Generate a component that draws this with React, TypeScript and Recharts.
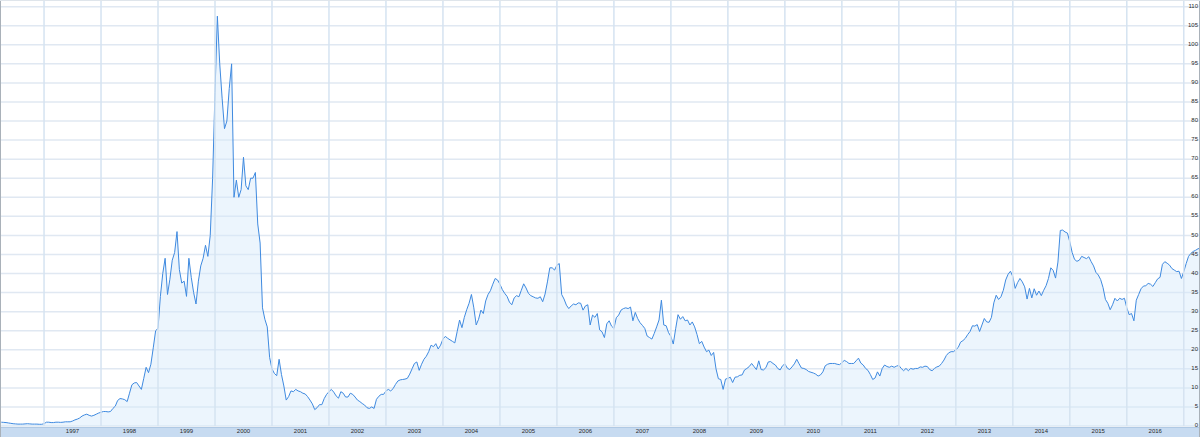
import React from 'react';
import { AreaChart, Area, XAxis, YAxis, CartesianGrid, ReferenceLine } from 'recharts';

// Semi-monthly samples starting mid-April 1996
const FIRST_SAMPLE = 1996.25;
const SAMPLES_PER_YEAR = 24;

const prices: number[] = [
  // 1996 (Apr-Dec)
  1.0, 0.95, 0.9, 0.8, 0.7, 0.6, 0.55, 0.5, 0.5, 0.5, 0.55, 0.6, 0.55, 0.5, 0.5, 0.5, 0.45, 0.45,
  // 1997
  0.6, 1.0, 1.0, 0.9, 0.9, 1.0, 1.0, 0.95, 1.0, 1.1, 1.1, 1.1, 1.3, 1.6, 1.8, 2.1, 2.6, 2.9, 3.1, 2.8, 2.6, 2.8, 3.1, 3.4,
  // 1998
  3.6, 3.8, 3.8, 3.7, 3.8, 4.6, 5.2, 6.7, 7.2, 7.1, 6.9, 6.4, 8.6, 10.8, 11.3, 11.4, 10.5, 9.6, 12.5, 15.4, 14.0, 16.2, 20.5, 25,
  // 1999
  25.6, 34, 40, 44, 34.5, 38.5, 43.5, 45.5, 51, 41, 37.5, 38, 34, 44, 39, 35, 32, 38, 42, 44, 47.4, 44.5, 50, 65,
  // 2000
  87.5, 107.5, 95, 86, 78, 80, 88.5, 95, 60, 64.5, 60, 62, 70.5, 63, 62, 65, 65, 66.5, 53, 48, 31, 28, 26, 18,
  // 2001
  15, 13.8, 13.2, 17.5, 13.5, 10.5, 6.8, 7.7, 9.2, 9.0, 9.6, 9.2, 9.0, 8.6, 8.4, 7.7, 6.8, 5.8, 4.3, 4.8, 5.6, 5.6, 7.2, 8.3,
  // 2002
  9.0, 9.6, 8.9, 7.9, 7.3, 9.0, 8.6, 7.6, 7.6, 8.6, 8.3, 7.6, 6.8, 6.4, 5.9, 5.5, 4.8, 4.6, 5.0, 4.6, 7.0, 7.8, 8.3, 8.3,
  // 2003
  9.2, 9.6, 9.2, 9.8, 10.9, 11.8, 12.1, 12.2, 12.3, 12.5, 13.6, 15, 16.4, 16.8, 14.6, 16.2, 17.5, 18.3, 19.5, 21.2, 20.8, 21.6, 20.2, 21.2,
  // 2004
  22.8, 23.5, 23.0, 22.6, 22.2, 21.8, 24.8, 27.8, 25.8, 28.5, 30.5, 32.2, 34.5, 31, 26.5, 28, 30.4, 29.5, 32.8, 34.5, 35.5, 37.2, 38.7, 38.3,
  // 2005
  37.2, 35.8, 34.8, 34.0, 32.5, 31.8, 33.6, 34.2, 33.9, 35.6, 37.3, 36.2, 34.8, 34.2, 33.9, 33.6, 33.5, 33.9, 32.6, 34.6, 37.8, 41.5, 41.5, 40.9,
  // 2006
  42.2, 42.6, 34.5, 33.3, 31.7, 30.8, 31.5, 32, 31.8, 32.3, 32.2, 30.4, 31.5, 31.8, 26.5, 29.1, 28.5, 29.5, 25.2, 24.7, 23.2, 26.8, 27.6, 26.2,
  // 2007
  25.6, 28.4, 29.1, 30.4, 30.8, 31, 30.8, 31.2, 27.6, 29.8, 28.2, 27.1, 26.4, 25.6, 23.6, 23.2, 22.8, 24.3, 26, 27.8, 33, 26.5, 26.3, 24.5,
  // 2008
  23.5, 21.5, 25.5, 29.2, 28, 28.7, 27.6, 27.8, 26.5, 27.3, 26, 24, 21.6, 22.2, 20.7, 19.5, 19.9, 18.5, 19.3, 15, 12.4, 12.2, 9.6, 12.3,
  // 2009
  12.5, 12.8, 11.4, 12.8, 12.9, 13.3, 13.4, 14.7, 15.1, 15.6, 16.4, 15.6, 14.8, 17.1, 14.8, 14.7, 15.3, 16.8, 16.9, 16.4, 16, 15.1, 14.7, 15.8,
  // 2010
  16.3, 15.2, 14.8, 15.5, 16.3, 17.5, 16.3, 15.2, 15.1, 14.8, 14.3, 14.1, 13.9, 13.6, 13.1, 13.4, 14.2, 15.8, 16.2, 16.4, 16.4, 16.4, 16.2, 16.1,
  // 2011
  16.6, 17.2, 16.9, 16.4, 16.4, 16.4, 17.1, 17.8, 16.5, 16, 15.1, 14.6, 13.5, 12.2, 12.6, 14.2, 13.1, 15.1, 16, 15.6, 15.4, 15.7, 15.4, 15.7,
  // 2012
  15.9, 15.1, 14.5, 15.1, 14.5, 15.1, 14.9, 15.1, 15.1, 15.5, 15.4, 15.7, 15.6, 14.8, 14.5, 15.1, 15.5, 15.7, 16.4, 17.3, 18.5, 19.2, 19.5, 19.5,
  // 2013
  20, 20.6, 22, 22.4, 23, 24, 24.8, 26.3, 26.2, 26.6, 24.8, 26.5, 28.2, 27.3, 27.2, 28.5, 32.3, 34.3, 33.2, 33.9, 35.6, 38.3, 39.8, 40.6,
  // 2014
  39.2, 36.1, 37.6, 38.7, 37.8, 36.5, 33.3, 36.1, 33.6, 36, 34.3, 35.4, 34.2, 35.6, 36.8, 38.7, 41.5, 40.8, 38.8, 43, 51.3, 51.4, 50.9, 50.6,
  // 2015
  48.3, 45.5, 43.7, 43.2, 43.5, 44.5, 44.2, 43.9, 44.4, 43.1, 42, 40.3, 39.6, 38.4, 36.3, 33.2, 32.2, 30.5, 31.8, 33.5, 32.8, 33.5, 33.2, 33.5,
  // 2016
  31, 29.2, 29.5, 27.6, 33, 34.5, 36, 36.7, 36.8, 37.4, 37.2, 36.6, 37.6, 38.6, 39, 42.4, 43.1, 42.7, 42.2, 41.3, 40.9, 40.5, 40.6, 38.7,
  // 2017 (Jan-Apr)
  40.5, 42.6, 44.5, 45.3, 45.8, 46.1, 46.5, 46.6,
];

const yearStarts = [1997, 1998, 1999, 2000, 2001, 2002, 2003, 2004, 2005, 2006, 2007, 2008, 2009, 2010, 2011, 2012, 2013, 2014, 2015, 2016, 2017];
const yearLabels = ['1997', '1998', '1999', '2000', '2001', '2002', '2003', '2004', '2005', '2006', '2007', '2008', '2009', '2010', '2011', '2012', '2013', '2014', '2015', '2016'];
const yTicks = [0, 5, 10, 15, 20, 25, 30, 35, 40, 45, 50, 55, 60, 65, 70, 75, 80, 85, 90, 95, 100, 105, 110];

const X_DOMAIN: [number, number] = [1996.2273, 2017.3021];
const Y_DOMAIN: [number, number] = [0, 111.75];

const data = prices.map((v, i) => ({ t: FIRST_SAMPLE + i / SAMPLES_PER_YEAR, v }));
const labelTicks = yearLabels.map((y) => Number(y) + 0.5);

const FONT = '"Liberation Sans", Arial, sans-serif';

export default function App() {
  return (
    <div style={{ position: 'absolute', left: 0, top: 0, width: 1200, height: 437, background: '#ffffff', overflow: 'hidden' }}>
      <div style={{ position: 'absolute', left: 0, top: 427, width: 1200, height: 10, background: '#c7dbf1', borderTop: '1px solid #b0c9e4', boxSizing: 'border-box' }} />
      <div style={{ position: 'absolute', left: 0, top: 0, width: 1200, height: 437 }}>
        <AreaChart width={1200} height={437} data={data} margin={{ top: 0, right: -1, bottom: 0, left: 0 }}>
          <CartesianGrid horizontal vertical={false} stroke="#e0e8f2" strokeWidth={1.5} />
          <XAxis
            dataKey="t"
            type="number"
            domain={X_DOMAIN}
            allowDataOverflow
            ticks={labelTicks}
            interval={0}
            tickFormatter={(t: number) => String(Math.floor(t))}
            height={11}
            axisLine={false}
            tickLine={false}
            tickSize={0}
            tickMargin={3}
            tick={{ fontSize: 6, fill: '#2a2a2a', fontFamily: FONT }}
          />
          <YAxis
            orientation="right"
            mirror
            width={1}
            domain={Y_DOMAIN}
            allowDataOverflow
            ticks={yTicks}
            interval={0}
            axisLine={false}
            tickLine={false}
            tickSize={0}
            tickMargin={3}
            tick={{ fontSize: 6, fill: '#2a2a2a', fontFamily: FONT, dy: -1 }}
          />
          {yearStarts.map((y) => (
            <ReferenceLine key={y} x={y} stroke="#d5e3f1" strokeWidth={1.5} />
          ))}
          <Area
            type="linear"
            dataKey="v"
            stroke="#3f8ae0"
            strokeWidth={1}
            fill="#d5e9fb"
            fillOpacity={0.45}
            dot={false}
            activeDot={false}
            isAnimationActive={false}
          />
        </AreaChart>
      </div>
      <div style={{ position: 'absolute', left: 0, top: 0, width: 1, height: 437, background: '#a9b1b9' }} />
      <div style={{ position: 'absolute', right: 0, top: 0, width: 1, height: 437, background: '#a9b1b9' }} />
      <div style={{ position: 'absolute', left: 0, top: 0, width: 1200, height: 1, background: '#dfe5eb' }} />
    </div>
  );
}
